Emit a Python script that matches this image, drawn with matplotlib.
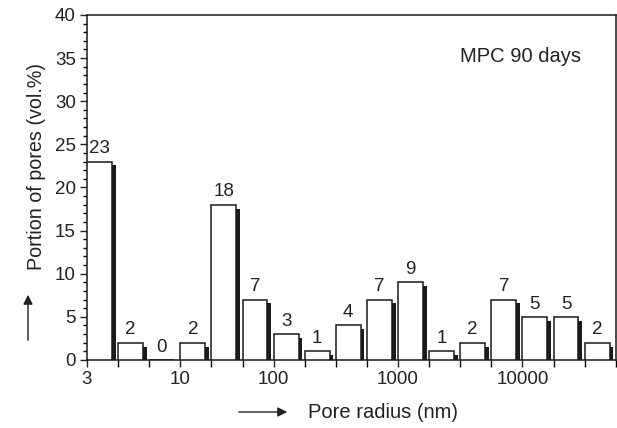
import matplotlib
matplotlib.use("Agg")
import matplotlib.pyplot as plt
import numpy as np

plt.rcParams['font.family'] = ['Liberation Sans', 'DejaVu Sans']

# pore volume portion per radius class (vol.%)
values = [23, 2, 0, 2, 18, 7, 3, 1, 4, 7, 9, 1, 2, 7, 5, 5, 2]
tick_pos = [0, 3, 6, 10, 14]
tick_labels = ['3', '10', '100', '1000', '10000']

fig = plt.figure(figsize=(6.17, 4.28), dpi=100)
ax = fig.add_axes([0.141, 0.159, 0.857, 0.806])

x = np.arange(len(values))
vals = np.array(values, dtype=float)

# shadow behind each bar
shadow = np.clip(vals - 0.45, 0, None)
ax.bar(x + 0.12, shadow, width=0.8, align='edge', color='#1a1a1a',
       linewidth=0, zorder=2)
ax.bar(x, vals, width=0.8, align='edge', facecolor='white',
       edgecolor='#1a1a1a', linewidth=1.1, zorder=3)

for xi, v in zip(x, values):
    ax.text(xi + 0.4, v + 0.5, str(v), ha='center', va='bottom',
            fontsize=13.5, color='#222222')

ax.set_xlim(0, len(values))
ax.set_ylim(0, 40)
ax.set_xticks(np.arange(len(values) + 1), minor=True)
ax.set_xticks(tick_pos)
ax.set_xticklabels(tick_labels)
ax.set_yticks(np.arange(0, 41, 5))
ax.set_yticks(np.arange(0, 41, 1), minor=True)
ax.tick_params(axis='both', which='major', direction='out', labelsize=13.5,
               colors='#222222', width=1, length=5)
ax.tick_params(axis='x', which='minor', direction='out', length=5, width=1)
ax.tick_params(axis='y', which='minor', direction='out', length=3, width=1)
ax.tick_params(axis='x', which='major', pad=3)
ax.tick_params(axis='y', which='major', pad=3)
for s in ax.spines.values():
    s.set_linewidth(1.1)
    s.set_color('#1a1a1a')

ax.text(0.935, 0.88, 'MPC 90 days', transform=ax.transAxes, ha='right',
        va='center', fontsize=14.5, color='#222222')

# axis titles with arrows
fig.text(37 / 617, 1 - 166 / 428, 'Portion of pores (vol.%)', rotation=90,
         ha='center', va='center', fontsize=14.2, color='#222222')
fig.text(308 / 617, 1 - 412 / 428, 'Pore radius (nm)', ha='left',
         va='center', fontsize=14.5, color='#222222')
fig.add_artist(matplotlib.patches.FancyArrowPatch(
    (28 / 617, 1 - 343 / 428), (28 / 617, 1 - 292 / 428),
    transform=fig.transFigure, arrowstyle='-|>', mutation_scale=14,
    color='#222222', linewidth=1))
fig.add_artist(matplotlib.patches.FancyArrowPatch(
    (236 / 617, 1 - 412 / 428), (290 / 617, 1 - 412 / 428),
    transform=fig.transFigure, arrowstyle='-|>', mutation_scale=14,
    color='#222222', linewidth=1))

fig.savefig('out.png', dpi=100)
